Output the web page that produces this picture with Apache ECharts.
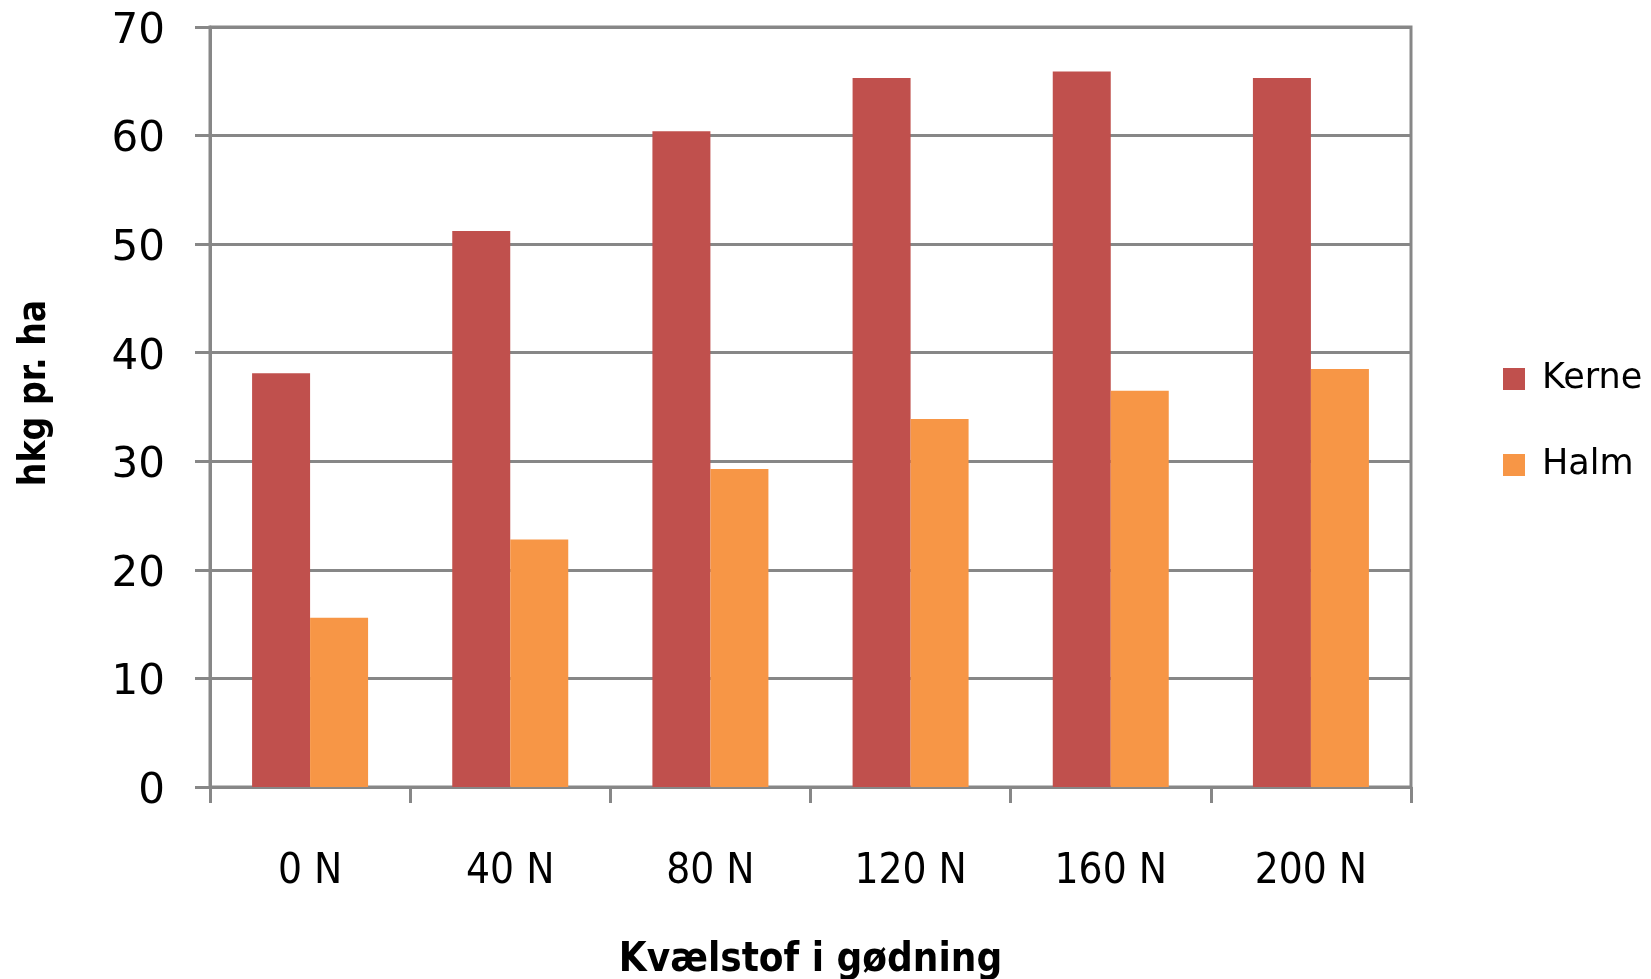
<!DOCTYPE html>
<html>
<head>
<meta charset="utf-8">
<script src="https://cdn.jsdelivr.net/npm/echarts@6/dist/echarts.min.js"></script>
<style>
  html, body { margin: 0; padding: 0; background: #ffffff; }
  #chart { width: 1651px; height: 979px; }
</style>
</head>
<body>
<div id="chart"></div>
<script>
// Nitrogen rates and yields (hkg per ha)
const categories = ['0 N', '40 N', '80 N', '120 N', '160 N', '200 N'];
const kerne = [38.1, 51.2, 60.4, 65.3, 65.9, 65.3];
const halm = [15.6, 22.8, 29.3, 33.9, 36.5, 38.5];
const yTicks = { min: 0, max: 70, interval: 10 };

const gridGrey = '#878787';

const chart = echarts.init(document.getElementById('chart'), null, { renderer: 'canvas' });

chart.setOption({
  backgroundColor: '#ffffff',
  animation: false,
  grid: {
    left: 210, right: 240, top: 27, bottom: 192,
    show: true, borderColor: gridGrey, borderWidth: 3,
    containLabel: false,
    outerBoundsMode: 'none'
  },
  legend: {
    orient: 'vertical',
    left: 1503,
    top: 358,
    padding: 0,
    itemWidth: 22,
    itemHeight: 22,
    itemGap: 44,
    icon: 'rect',
    textStyle: {
      fontFamily: 'DejaVu Sans',
      fontSize: 35,
      color: '#000000',
      lineHeight: 42,
      padding: [0, 0, 0, 12]
    },
    data: ['Kerne', 'Halm']
  },
  xAxis: {
    type: 'category',
    data: categories,
    boundaryGap: true,
    name: 'Kvælstof i gødning',
    nameLocation: 'middle',
    nameGap: 154,
    nameTextStyle: {
      fontFamily: 'DejaVu Sans Condensed',
      fontWeight: 'bold',
      fontSize: 40,
      color: '#000000'
    },
    axisLine: { show: true, lineStyle: { color: gridGrey, width: 3 } },
    axisTick: { show: true, length: 16, lineStyle: { color: gridGrey, width: 3 } },
    axisLabel: {
      margin: 64,
      fontFamily: 'DejaVu Sans Condensed',
      fontSize: 42,
      color: '#000000'
    },
    splitLine: { show: false }
  },
  yAxis: {
    type: 'value',
    min: yTicks.min,
    max: yTicks.max,
    interval: yTicks.interval,
    name: 'hkg pr. ha',
    nameLocation: 'middle',
    nameGap: 156,
    nameRotate: 90,
    nameTextStyle: {
      fontFamily: 'DejaVu Sans Condensed',
      fontWeight: 'bold',
      fontSize: 37,
      color: '#000000',
      padding: [0, 0, 0, 28]
    },
    axisLine: { show: true, lineStyle: { color: gridGrey, width: 3 } },
    axisTick: { show: true, length: 15, lineStyle: { color: gridGrey, width: 3 } },
    axisLabel: {
      margin: 45,
      fontFamily: 'DejaVu Sans',
      fontSize: 42,
      color: '#000000',
      verticalAlign: 'top',
      lineHeight: 10
    },
    splitLine: { show: true, lineStyle: { color: gridGrey, width: 3 } }
  },
  series: [
    {
      name: 'Kerne',
      type: 'bar',
      data: kerne,
      barWidth: 58,
      barGap: '0%',
      itemStyle: { color: '#C0504D' }
    },
    {
      name: 'Halm',
      type: 'bar',
      data: halm,
      barWidth: 58,
      barGap: '0%',
      itemStyle: { color: '#F79646' }
    }
  ]
});
</script>
</body>
</html>
